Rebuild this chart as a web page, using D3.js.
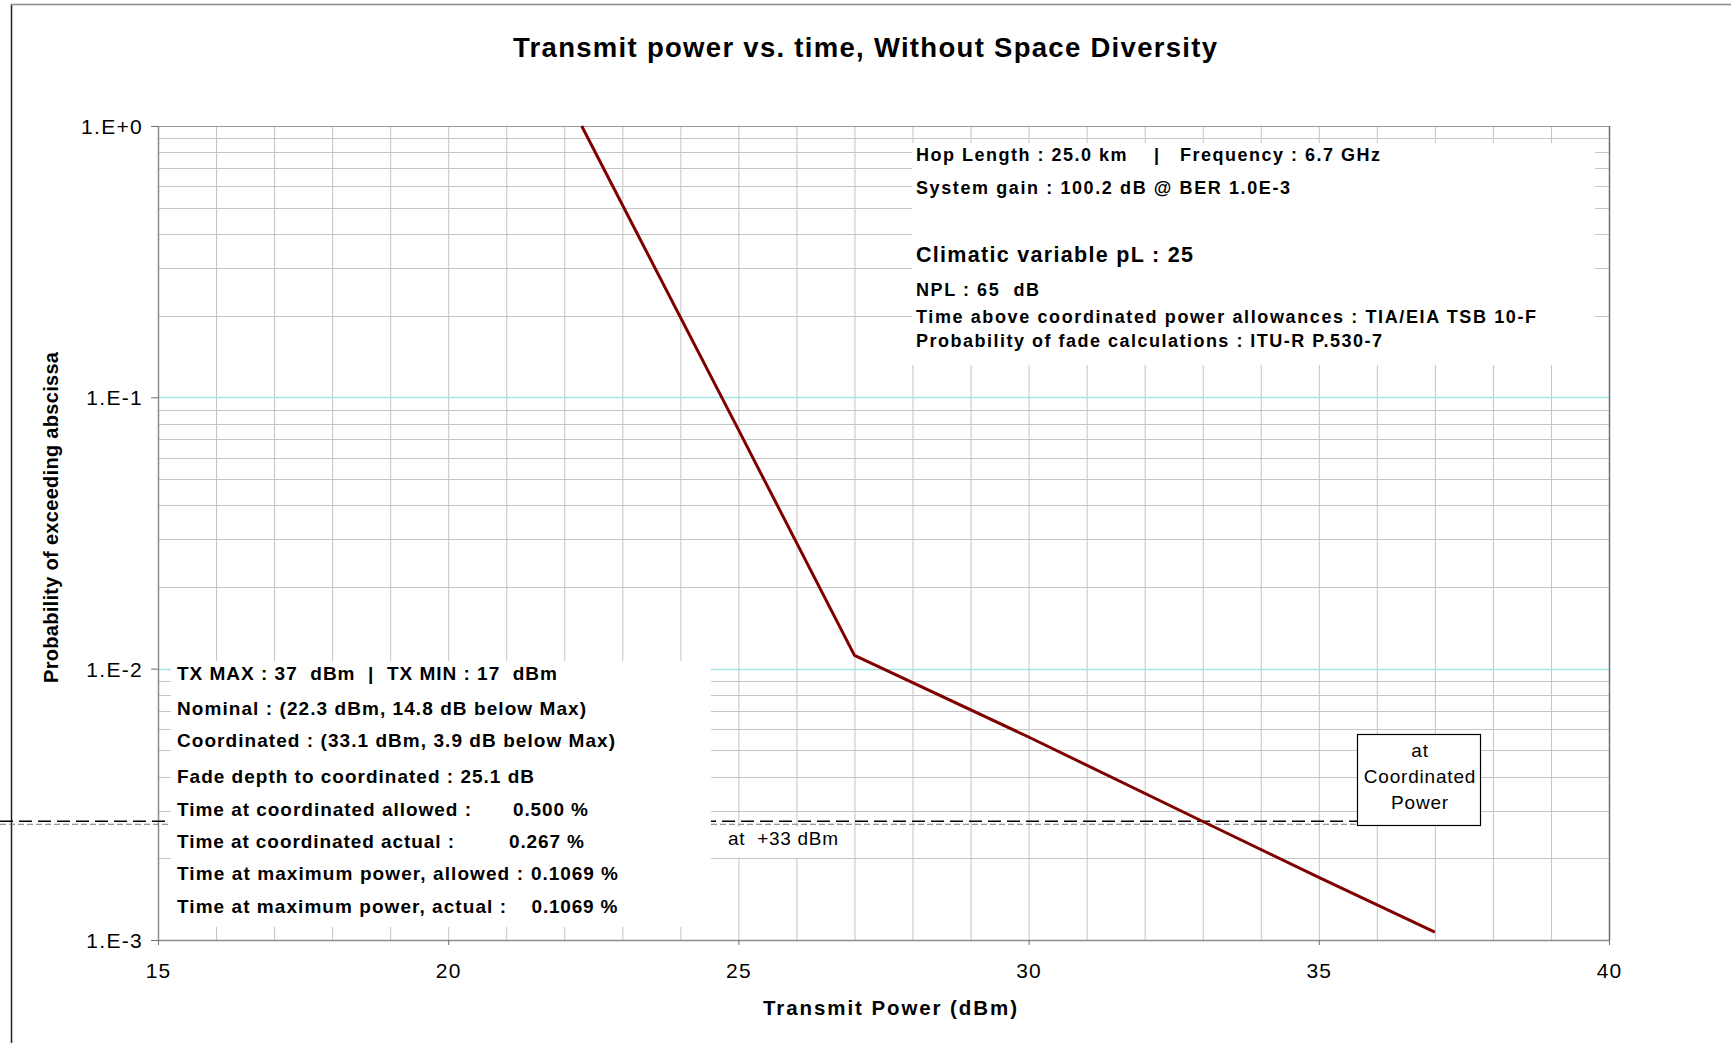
<!DOCTYPE html>
<html>
<head>
<meta charset="utf-8">
<script src="https://cdn.jsdelivr.net/npm/d3@7"></script>
<style>
	body { margin: 0; background: #fff; }
	svg { display: block; font-family: "Liberation Sans", Arial, sans-serif; }
	text { white-space: pre; }
</style>
</head>
<body>
<svg id="chart" width="1731" height="1043"></svg>
<script>
// Values
const power = [22.3, 25, 27, 30, 33.1, 35, 37];
const probability = [1, 0.076, 0.0112, 0.0056, 0.00267, 0.0017, 0.001069];
const xTicks = [15, 20, 25, 30, 35, 40];
const yTicks = [1, 0.1, 0.01, 0.001];
const yTickLabels = ["1.E+0", "1.E-1", "1.E-2", "1.E-3"];
const coordinatedLevel = [0.00274, 0.00267]; // long dash, short dash
const coordinatedLabel = "at  +33 dBm";
const coordinatedNote = ["at", "Coordinated", "Power"];
const hopInfo = [
	"Hop Length : 25.0 km    |   Frequency : 6.7 GHz",
	"System gain : 100.2 dB @ BER 1.0E-3",
	"Climatic variable pL : 25",
	"NPL : 65  dB",
	"Time above coordinated power allowances : TIA/EIA TSB 10-F",
	"Probability of fade calculations : ITU-R P.530-7",
];
const txLabels = [
	"TX MAX : 37  dBm  |  TX MIN : 17  dBm",
	"Nominal : (22.3 dBm, 14.8 dB below Max)",
	"Coordinated : (33.1 dBm, 3.9 dB below Max)",
	"Fade depth to coordinated : 25.1 dB",
	"Time at coordinated allowed :",
	"Time at coordinated actual :",
	"Time at maximum power, allowed :",
	"Time at maximum power, actual :",
];
const txValues = ["", "", "", "", "0.500 %", "0.267 %", "0.1069 %", "0.1069 %"];

const title = "Transmit power vs. time, Without Space Diversity";
const xTitle = "Transmit Power (dBm)";
const yTitle = "Probability of exceeding abscissa";

// Layout
const plot = { left: 158, top: 126, right: 1609, bottom: 940 };
const hopLayout = [
	{ y: 161, w: 464, size: 18 },
	{ y: 194, w: 374, size: 18 },
	{ y: 262, w: 277, size: 21.5 },
	{ y: 296, w: 123, size: 18 },
	{ y: 322.5, w: 620, size: 18 },
	{ y: 347, w: 466, size: 18 },
];
const txLayout = [
	{ y: 680, w: 380 },
	{ y: 715, w: 409 },
	{ y: 747, w: 438 },
	{ y: 782.5, w: 357 },
	{ y: 815.5, w: 294, vx: 513, vw: 75 },
	{ y: 847.5, w: 277, vx: 509, vw: 75 },
	{ y: 880, w: 346, vx: 531, vw: 87 },
	{ y: 912.5, w: 329, vx: 531.5, vw: 86 },
];

const svg = d3.select("#chart");
const x = d3.scaleLinear().domain([15, 40]).range([plot.left, plot.right]);
const y = d3.scaleLog().domain([0.001, 1]).range([plot.bottom, plot.top]);

const isDecade = (d) => Math.abs(Math.log10(d) - Math.round(Math.log10(d))) < 1e-9;

function addText(parent, str, px, py, o) {
	const t = parent
		.append("text")
		.attr("x", px)
		.attr("y", py)
		.attr("font-size", o.size)
		.attr("font-weight", o.weight || "normal")
		.attr("text-anchor", o.anchor || "start")
		.attr("fill", o.fill || "#000")
		.text(str);
	if (o.width) t.attr("textLength", o.width).attr("lengthAdjust", "spacing");
	if (o.spacing) t.attr("letter-spacing", o.spacing);
	return t;
}

// outer frame
svg.append("line").attr("x1", 11.5).attr("x2", 11.5).attr("y1", 4).attr("y2", 1043)
	.attr("stroke", "#222").attr("stroke-width", 1.5);
svg.append("line").attr("x1", 11).attr("x2", 1731).attr("y1", 4.5).attr("y2", 4.5)
	.attr("stroke", "#8a8a8a").attr("stroke-width", 1.5);

const g = svg.append("g").classed("plot", true);

// grid
g.selectAll(".vgrid")
	.data(d3.range(16, 40))
	.join("line")
	.classed("vgrid", true)
	.attr("x1", (d) => x(d) + 0.5)
	.attr("x2", (d) => x(d) + 0.5)
	.attr("y1", plot.top)
	.attr("y2", plot.bottom)
	.attr("stroke", "#c4c4c4");

g.selectAll(".hgrid")
	.data(y.ticks().filter((d) => d > 0.001 && d < 1))
	.join("line")
	.classed("hgrid", true)
	.attr("x1", plot.left)
	.attr("x2", plot.right)
	.attr("y1", (d) => Math.round(y(d)) + 0.5)
	.attr("y2", (d) => Math.round(y(d)) + 0.5)
	.attr("stroke", (d) => (isDecade(d) ? "#a6e2e6" : "#c6c6c6"))
	.attr("stroke-width", (d) => (isDecade(d) ? 1.3 : 1));

// plot border
g.append("line").attr("x1", plot.left).attr("x2", plot.right)
	.attr("y1", plot.top + 0.5).attr("y2", plot.top + 0.5).attr("stroke", "#9a9a9a");
g.append("line").attr("x1", plot.right + 0.5).attr("x2", plot.right + 0.5)
	.attr("y1", plot.top).attr("y2", plot.bottom).attr("stroke", "#6e6e6e").attr("stroke-width", 1.5);

// axes
const xAxis = g
	.append("g")
	.attr("transform", `translate(0,${plot.bottom})`)
	.call(d3.axisBottom(x).tickValues(xTicks).tickSize(5).tickSizeOuter(0).tickFormat(d3.format("d")));
xAxis.select(".domain").attr("stroke", "#8c8c8c").attr("stroke-width", 1.5);
xAxis.selectAll(".tick line").attr("stroke", "#6e6e6e");
xAxis.selectAll(".tick text")
	.attr("y", 38).attr("dy", 0)
	.attr("font-size", 21).attr("font-family", null)
	.attr("letter-spacing", 1.2).attr("fill", "#000");

const yAxis = g
	.append("g")
	.attr("transform", `translate(${plot.left},0)`)
	.call(d3.axisLeft(y).tickValues(yTicks).tickSize(7).tickSizeOuter(0)
		.tickFormat((d, i) => yTickLabels[i]));
yAxis.select(".domain").attr("stroke", "#8c8c8c").attr("stroke-width", 1.5);
yAxis.selectAll(".tick line").attr("stroke", "#6e6e6e");
yAxis.selectAll(".tick text")
	.attr("x", -15).attr("dy", "0.36em")
	.attr("font-size", 21).attr("font-family", null)
	.attr("letter-spacing", 1.3).attr("fill", "#000");

// coordinated power levels
g.selectAll(".level")
	.data(coordinatedLevel)
	.join("line")
	.classed("level", true)
	.attr("x1", 0)
	.attr("x2", 1357)
	.attr("y1", (d) => y(d))
	.attr("y2", (d) => y(d))
	.attr("stroke", (d, i) => (i === 0 ? "#000" : "#777"))
	.attr("stroke-width", (d, i) => (i === 0 ? 1.6 : 1))
	.attr("stroke-dasharray", (d, i) => (i === 0 ? "13,6" : "6,3"));

// curve
g.append("path")
	.datum(power.map((p, i) => [p, probability[i]]))
	.attr("fill", "none")
	.attr("stroke", "#800000")
	.attr("stroke-width", 3)
	.attr("stroke-linejoin", "round")
	.attr("d", d3.line().x((d) => x(d[0])).y((d) => y(d[1])));

// info box, top right
const hop = svg.append("g").classed("hop-info", true);
hop.append("rect").attr("x", 912).attr("y", 143).attr("width", 683).attr("height", 222).attr("fill", "#fff");
hopInfo.forEach((s, i) => {
	const l = hopLayout[i];
	addText(hop, s, 916, l.y, { size: l.size, weight: "bold", width: l.w });
});

// transmit box, bottom left
const tx = svg.append("g").classed("tx-info", true);
tx.append("rect").attr("x", 171).attr("y", 661).attr("width", 540).attr("height", 266).attr("fill", "#fff");
txLabels.forEach((s, i) => {
	const l = txLayout[i];
	addText(tx, s, 177, l.y, { size: 19, weight: "bold", width: l.w });
	if (txValues[i]) addText(tx, txValues[i], l.vx, l.y, { size: 19, weight: "bold", width: l.vw });
});

// +33 dBm label
const lbl = svg.append("g");
lbl.append("rect").attr("x", 712).attr("y", 827).attr("width", 131).attr("height", 31).attr("fill", "#fff");
addText(lbl, coordinatedLabel, 728, 845, { size: 19, width: 110 });

// coordinated power note
const note = svg.append("g");
note.append("rect").attr("x", 1357.5).attr("y", 734.5).attr("width", 123).attr("height", 91)
	.attr("fill", "#fff").attr("stroke", "#000").attr("stroke-width", 1.2);
coordinatedNote.forEach((s, i) => {
	addText(note, s, 1420, 757 + i * 26, { size: 19, anchor: "middle", spacing: 0.8 });
});

// titles
addText(svg, title, 865, 57, { size: 27.5, weight: "bold", anchor: "middle", width: 704 });
addText(svg, xTitle, 890, 1015, { size: 20.5, weight: "bold", anchor: "middle", width: 254 });
addText(svg, yTitle, 0, 0, { size: 20, weight: "bold", anchor: "middle", width: 331 })
	.attr("transform", "translate(58,517.5) rotate(-90)");
</script>
</body>
</html>
